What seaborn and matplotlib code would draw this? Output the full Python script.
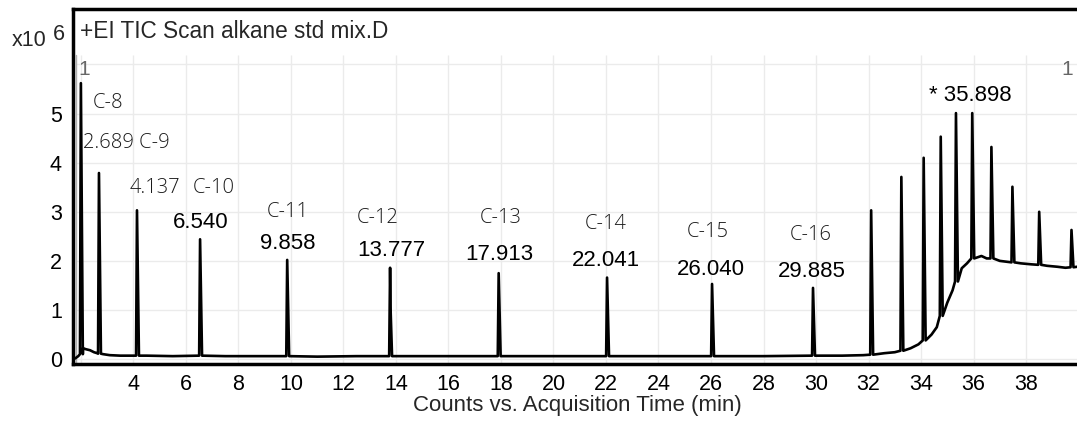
import numpy as np
import pandas as pd
import matplotlib
matplotlib.use("Agg")
import matplotlib.pyplot as plt
import seaborn as sns

# ---------------- data ----------------
# baseline of the TIC trace (time in min, counts x10^6)
base_t = [1.72, 1.80, 1.90, 2.08, 2.20, 2.35, 2.50, 2.62, 2.85, 3.10, 3.50, 4.50, 5.50,
          7.50, 9.00, 11.00, 12.50, 15.00, 17.00, 20.00, 24.00, 28.00, 31.00, 31.80,
          32.60, 33.00, 33.60, 33.90, 34.40, 34.60, 35.00, 35.20, 35.55, 35.75, 36.30,
          36.50, 37.00, 37.30, 37.80, 38.20, 38.80, 39.20, 39.50, 39.94]
base_y = [0.00, 0.02, 0.06, 0.22, 0.20, 0.18, 0.14, 0.12, 0.10, 0.08, 0.07, 0.07, 0.06,
          0.06, 0.06, 0.05, 0.06, 0.06, 0.06, 0.06, 0.06, 0.06, 0.07, 0.08,
          0.12, 0.14, 0.22, 0.30, 0.50, 0.65, 1.15, 1.40, 1.85, 1.95, 2.10,
          2.05, 2.00, 1.98, 1.95, 1.93, 1.90, 1.88, 1.86, 1.88]

# peaks: apex time, apex height, baseline level at the foot
peak_t = [2.00, 2.689, 4.137, 6.540, 9.858, 13.777, 17.913, 22.041, 26.040, 29.885,
          32.10, 33.25, 34.10, 34.75, 35.33, 35.95, 36.68, 37.48, 38.50, 39.73]
peak_h = [5.62, 3.79, 3.03, 2.44, 2.02, 1.86, 1.75, 1.66, 1.53, 1.45,
          3.03, 3.71, 4.10, 4.53, 5.01, 5.01, 4.32, 3.51, 3.00, 2.63]
peak_base = [0.10, 0.11, 0.07, 0.07, 0.06, 0.06, 0.06, 0.06, 0.06, 0.07,
             0.09, 0.17, 0.38, 0.88, 1.58, 2.05, 2.05, 1.97, 1.92, 1.87]

# annotation texts
carbon_labels = ["C-8", "2.689 C-9", "4.137", "C-10", "C-11", "C-12", "C-13", "C-14", "C-15", "C-16"]
rt_labels = ["6.540", "9.858", "13.777", "17.913", "22.041", "26.040", "29.885", "* 35.898"]
x_tick_vals = [2, 4, 6, 8, 10, 12, 14, 16, 18, 20, 22, 24, 26, 28, 30, 32, 34, 36, 38]
x_tick_text = ["", "4", "6", "8", "10", "12", "14", "16", "18", "20", "22", "24", "26",
               "28", "30", "32", "34", "36", "38"]
y_tick_vals = [0, 1, 2, 3, 4, 5, 6]
y_tick_text = ["0", "1", "2", "3", "4", "5", ""]
title_text = "+EI TIC Scan alkane std mix.D"
x_label = "Counts vs. Acquisition Time (min)"

# ---------------- build trace ----------------
pts_t = list(base_t)
pts_y = list(base_y)
for t, h, b in zip(peak_t, peak_h, peak_base):
    pts_t += [t - 0.035, t, t + 0.075]
    pts_y += [b, h, b]
# shoulder on the C-12 peak
pts_t.append(13.80)
pts_y.append(0.95)
df = pd.DataFrame({"t": pts_t, "I": pts_y}).sort_values("t").reset_index(drop=True)

# ---------------- figure ----------------
sns.set_theme(style="white")
plt.rcParams["font.family"] = ["Liberation Sans", "DejaVu Sans"]

fig = plt.figure(figsize=(10.77, 4.26), dpi=100)
L, R, B, T = 73 / 1077, 1.0, (426 - 364) / 426, (426 - 9) / 426
ax = fig.add_axes([L, B, R - L, T - B])

x0, x1 = 1.70, 39.94
y0, y1 = -0.10, 7.13
ax.set_xlim(x0, x1)
ax.set_ylim(y0, y1)

# grid (only inside the plot region, below title band)
grid_top = 6.19
ax.vlines(x_tick_vals, y0, grid_top, color="#ebebeb", lw=1.0, zorder=0)
ax.hlines(y_tick_vals, 1.81, x1, color="#ebebeb", lw=1.0, zorder=0)
ax.axvline(1.81, ymin=0, ymax=(grid_top - y0) / (y1 - y0), color="#b0b0b0", lw=1.0, zorder=1)

sns.lineplot(data=df, x="t", y="I", ax=ax, estimator=None, sort=False,
             color="black", lw=1.9, zorder=3)

ax.set_xticks(x_tick_vals)
ax.set_xticklabels(x_tick_text)
ax.set_yticks(y_tick_vals)
ax.set_yticklabels(y_tick_text)
ax.tick_params(axis="both", direction="out", length=5, width=1, color="#777777",
               labelsize=15.5, pad=3, labelcolor="black")
ax.tick_params(axis="x", pad=2)
ax.set_ylabel("")
ax.set_xlabel(x_label, fontsize=16)
ax.xaxis.set_label_coords((577 - 73) / 1004, (364 - 405) / 355)
ax.xaxis.label.set_va("center")

for side in ["left", "bottom", "top"]:
    ax.spines[side].set_visible(True)
    ax.spines[side].set_color("black")
    ax.spines[side].set_linewidth(2.5)
ax.spines["right"].set_visible(False)

# thin "C-n" labels
thin = dict(family=["Open Sans", "DejaVu Sans"], fontweight="light", color="#1a1a1a", fontsize=14.5)
c_pos = [(2.46, 5.21, "left"), (2.08, 4.40, "left"), (3.87, 3.48, "left"), (6.27, 3.48, "left"),
         (9.87, 2.99, "center"), (13.30, 2.88, "center"), (18.00, 2.88, "center"),
         (22.00, 2.75, "center"), (25.89, 2.58, "center"), (29.80, 2.53, "center")]
for (x, y, ha), s in zip(c_pos, carbon_labels):
    ax.text(x, y, s, ha=ha, va="center", **thin)

# retention time labels
rt_pos = [(6.56, 2.78), (9.87, 2.36), (13.81, 2.22), (17.95, 2.12), (22.00, 2.00),
          (26.00, 1.83), (29.85, 1.78), (35.87, 5.36)]
for (x, y), s in zip(rt_pos, rt_labels):
    ax.text(x, y, s, ha="center", va="center", fontsize=16, color="black")

# small grey "1" markers
ax.text(1.89, 5.90, "1", ha="left", va="center", fontsize=15, color="#666666")
ax.text(39.57, 5.90, "1", ha="center", va="center", fontsize=15, color="#666666")

# title and multiplier
fig.text(80 / 1077, (426 - 31) / 426, title_text, ha="left", va="center", fontsize=16.3)
fig.text(12 / 1077, (426 - 40) / 426, "x10", ha="left", va="center", fontsize=15.5)
fig.text(53 / 1077, (426 - 35) / 426, "6", ha="left", va="center", fontsize=15.5)

fig.savefig("out.png", dpi=100)
